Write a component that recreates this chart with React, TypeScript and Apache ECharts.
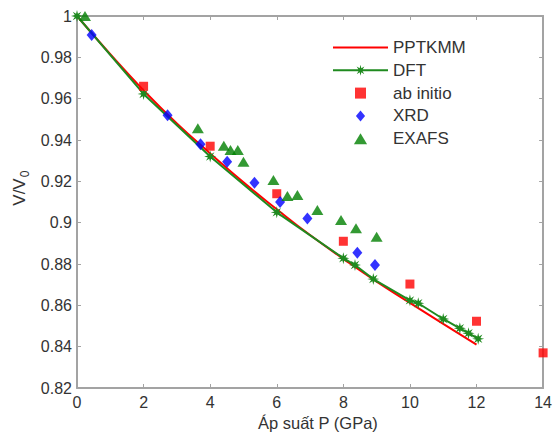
import React, { useEffect, useRef } from "react";
import * as echarts from "echarts";

// PPTKMM theory curve (P in GPa, V/V0)
const pptkmm: [number, number][] = [
  [0, 1.0], [1, 0.9815], [2, 0.964], [3, 0.948], [4, 0.9335], [5, 0.9195],
  [6, 0.9065], [7, 0.894], [8, 0.8825], [9, 0.8715], [10, 0.8612], [11, 0.851], [12, 0.841],
];
// DFT curve with markers
const dft: [number, number][] = [
  [0, 1.0], [2, 0.9623], [4, 0.932], [6, 0.905], [8, 0.8828], [8.35, 0.8795], [8.9, 0.8727],
  [10, 0.8624], [10.25, 0.861], [11, 0.8534], [11.5, 0.8489], [11.76, 0.8465], [12.05, 0.8438],
];
const abInitio: [number, number][] = [
  [2, 0.966], [4, 0.937], [6, 0.914], [8, 0.891], [10, 0.8703], [12, 0.8523], [14, 0.837],
];
const xrd: [number, number][] = [
  [0.44, 0.9908], [2.72, 0.952], [3.71, 0.938], [4.51, 0.9295], [5.33, 0.9193],
  [6.1, 0.910], [6.92, 0.902], [8.42, 0.8855], [8.95, 0.8795],
];
const exafs: [number, number][] = [
  [0.24, 1.0], [3.63, 0.9457], [4.41, 0.9372], [4.61, 0.9352], [4.83, 0.9352], [5.0, 0.9295],
  [5.9, 0.9207], [6.32, 0.9129], [6.62, 0.9134], [7.22, 0.9061], [7.93, 0.9013], [8.38, 0.8973], [9.0, 0.8932],
];
const legendNames = ["PPTKMM", "DFT", "ab initio", "XRD", "EXAFS"];
const xLabel = "Áp suất P (GPa)";

// 8-point asterisk-like star marker
const starPath =
  "path://M10,0 L11.53,6.3 L17.07,2.93 L13.7,8.47 L20,10 L13.7,11.53 L17.07,17.07 L11.53,13.7 L10,20 L8.47,13.7 L2.93,17.07 L6.3,11.53 L0,10 L6.3,8.47 L2.93,2.93 L8.47,6.3 Z";
// legend icons
const lineIcon = "path://M0,0 L55,0 L55,2 L0,2 Z";
const lineStarIcon =
  "path://M0,4.5 L55,4.5 L55,6.5 L0,6.5 Z M27.5,0 L28.34,3.47 L31.39,1.61 L29.53,4.66 L33,5.5 L29.53,6.34 L31.39,9.39 L28.34,7.53 L27.5,11 L26.66,7.53 L23.61,9.39 L25.47,6.34 L22,5.5 L25.47,4.66 L23.61,1.61 L26.66,3.47 Z";
const squareIcon = "path://M0,0 L9,0 L9,9 L0,9 Z";
const diamondIcon = "path://M5,0 L10,6 L5,12 L0,6 Z";
const triangleIcon = "path://M6,0 L12,10 L0,10 Z";

const FONT = "Liberation Sans, Arial, sans-serif";
const AXIS_COLOR = "#a3a3a3";
const TEXT_COLOR = "#333333";

export default function App() {
  const ref = useRef<HTMLDivElement>(null);
  useEffect(() => {
    if (!ref.current) return;
    const chart = echarts.init(ref.current, undefined, { renderer: "svg" });
    const axisCommon = {
      axisLine: { show: true, onZero: false, lineStyle: { color: AXIS_COLOR, width: 2 } },
      axisTick: { show: true, inside: true, length: 4, lineStyle: { color: AXIS_COLOR, width: 1 } },
      splitLine: { show: false },
    };
    chart.setOption({
      animation: false,
      backgroundColor: "#ffffff",
      textStyle: { fontFamily: FONT },
      grid: { left: 77, right: 8, top: 16, bottom: 46, containLabel: false },
      xAxis: [
        {
          type: "value", min: 0, max: 14, interval: 2, position: "bottom",
          ...axisCommon,
          axisLabel: { color: TEXT_COLOR, fontSize: 16, margin: 6, fontFamily: FONT },
        },
        {
          type: "value", min: 0, max: 14, interval: 2, position: "top",
          ...axisCommon,
          axisLabel: { show: false },
        },
      ],
      yAxis: [
        {
          type: "value", min: 0.82, max: 1, interval: 0.02, position: "left",
          ...axisCommon,
          axisLabel: { color: TEXT_COLOR, fontSize: 16, margin: 5, fontFamily: FONT },
        },
        {
          type: "value", min: 0.82, max: 1, interval: 0.02, position: "right",
          ...axisCommon,
          axisLabel: { show: false },
        },
      ],
      legend: {
        orient: "vertical",
        left: 333,
        top: 39,
        itemWidth: 55,
        itemHeight: 11,
        itemGap: 5.8,
        padding: 0,
        symbolKeepAspect: true,
        data: [
          { name: legendNames[0], icon: lineIcon, itemStyle: { color: "#ff0000" } },
          { name: legendNames[1], icon: lineStarIcon, itemStyle: { color: "#1f8a1f" } },
          { name: legendNames[2], icon: squareIcon, itemStyle: { color: "#ff0000" } },
          { name: legendNames[3], icon: diamondIcon, itemStyle: { color: "#0000ff" } },
          { name: legendNames[4], icon: triangleIcon, itemStyle: { color: "#008000" } },
        ],
        textStyle: { color: TEXT_COLOR, fontSize: 17, fontFamily: FONT },
      },
      series: [
        {
          name: legendNames[0], type: "line", data: pptkmm, smooth: true, symbol: "none",
          lineStyle: { color: "#ff0000", width: 2 }, itemStyle: { color: "#ff0000" }, z: 3,
        },
        {
          name: legendNames[1], type: "line", data: dft, symbol: starPath, symbolSize: 12,
          lineStyle: { color: "#1f8a1f", width: 2 }, itemStyle: { color: "#1f8a1f" }, z: 4,
        },
        {
          name: legendNames[2], type: "scatter", data: abInitio, symbol: "rect", symbolSize: 9,
          itemStyle: { color: "#ff0000" }, z: 5,
        },
        {
          name: legendNames[3], type: "scatter", data: xrd, symbol: "diamond", symbolSize: [10, 12],
          itemStyle: { color: "#0000ff" }, z: 5,
        },
        {
          name: legendNames[4], type: "scatter", data: exafs, symbol: "triangle", symbolSize: [12, 10],
          itemStyle: { color: "#008000" }, z: 5,
        },
      ],
      graphic: [
        {
          type: "text", left: 258, top: 414, z: 10,
          style: { text: xLabel, fontSize: 16.5, fill: TEXT_COLOR, fontFamily: FONT },
        },
        {
          type: "text", x: 19, y: 192, rotation: Math.PI / 2, z: 10,
          style: { text: "V/V", fontSize: 17, fill: TEXT_COLOR, fontFamily: FONT, align: "center", verticalAlign: "middle" },
        },
        {
          type: "text", x: 25, y: 174, rotation: Math.PI / 2, z: 10,
          style: { text: "0", fontSize: 12, fill: TEXT_COLOR, fontFamily: FONT, align: "center", verticalAlign: "middle" },
        },
      ],
    });
    return () => chart.dispose();
  }, []);
  return <div ref={ref} style={{ width: 555, height: 434, position: "absolute", left: 0, top: 0 }} />;
}
